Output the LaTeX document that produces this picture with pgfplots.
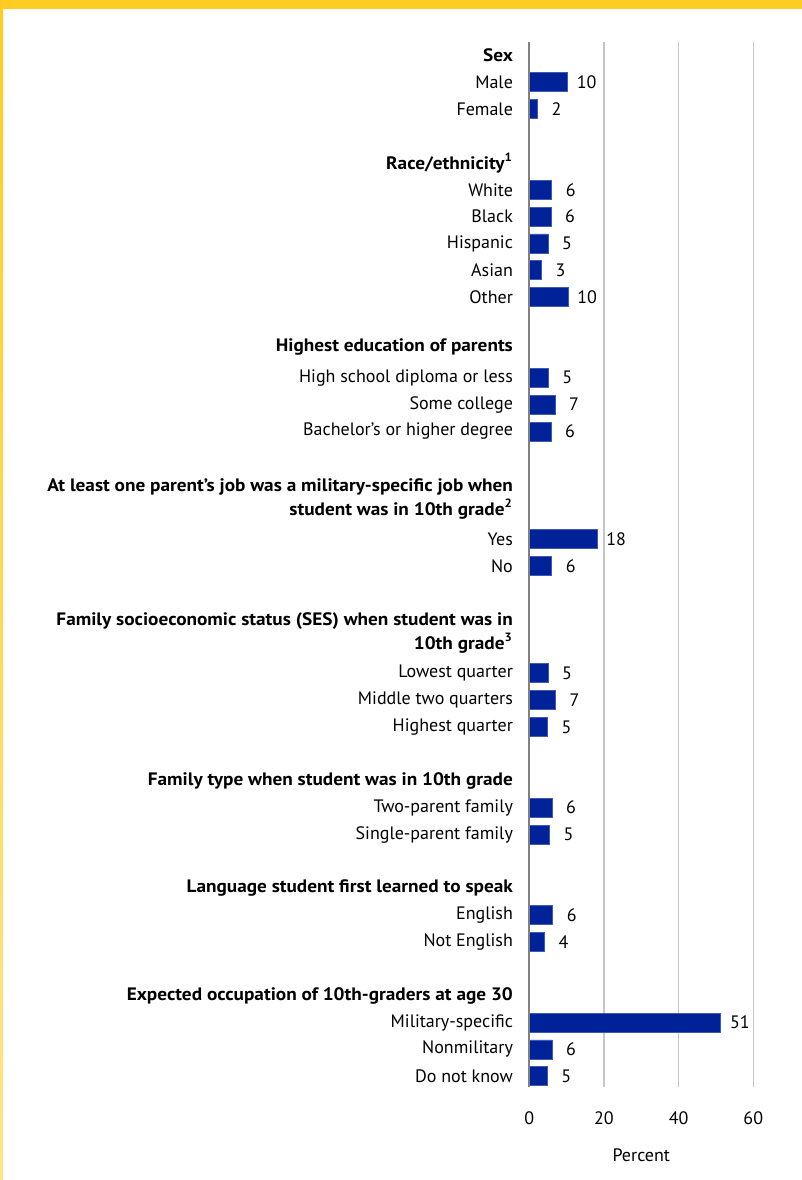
\documentclass[border=0pt]{standalone}
\usepackage{fontspec}
\setmainfont{PT Sans}[BoldFeatures={FakeStretch=1.07}]
\usepackage{pgfplots}
\usepackage{pgfplotstable}
\pgfplotsset{compat=1.18}

\definecolor{barblue}{RGB}{0,34,153}
\definecolor{bandyellow}{RGB}{255,204,34}
\definecolor{bandlight}{RGB}{255,228,140}

% rows run top to bottom; headings sit on the empty rows
\pgfplotstableread{
y  val  lab
1  10.3 10
2  2.2  2
5  6.0  6
6  5.8  6
7  5.0  5
8  3.3  3
9  10.4 10
12 5.1  5
13 6.9  7
14 5.8  6
18 18.2 18
19 6.0  6
23 5.0  5
24 7.0  7
25 4.9  5
28 6.1  6
29 5.4  5
32 6.3  6
33 4.1  4
36 51.3 51
37 6.1  6
38 4.8  5
}\data

\newcommand{\lbl}{\fontsize{9}{12}\selectfont}

\begin{document}
\begin{tikzpicture}
% page and yellow frame
\fill[white] (0,0) rectangle (401pt,-590pt);
\fill[bandyellow] (0,0) rectangle (401pt,-4.5pt);
\shade[top color=bandyellow, bottom color=bandlight] (0,-4.5pt) rectangle (1.5pt,-590pt);

\begin{axis}[
    at={(264.65pt,-543.5pt)},
    anchor=south west,
    scale only axis,
    width=112pt,
    height=522.5pt,
    xmin=0, xmax=60,
    ymin=-0.5, ymax=38.4,
    y dir=reverse,
    xtick={0,20,40,60},
    xmajorgrids=true,
    grid style={gray!45, line width=0.6pt},
    axis line style={draw=none},
    major tick length=0pt,
    ytick={0,1,2,4,5,6,7,8,9,10.85,12,13,14,16.5,18,19,21.5,23,24,25,27,28,29,31,32,33,35,36,37,38},
    yticklabels={
        \textbf{Sex}, Male, Female,
        \textbf{Race/ethnicity\textsuperscript{1}}, White, Black, Hispanic, Asian, Other,
        \textbf{Highest education of parents}, High school diploma or less, Some college, Bachelor’s or higher degree,
        {\textbf{At least one parent’s job was a military-specific job when}\\\textbf{student was in 10th grade\textsuperscript{2}}}, Yes, No,
        {\textbf{Family socioeconomic status (SES) when student was in}\\\textbf{10th grade\textsuperscript{3}}}, Lowest quarter, Middle two quarters, Highest quarter,
        \textbf{Family type when student was in 10th grade}, Two-parent family, Single-parent family,
        \textbf{Language student first learned to speak}, English, Not English,
        \textbf{Expected occupation of 10th-graders at age 30}, Military-specific, Nonmilitary, Do not know
    },
    yticklabel style={align=right, font=\lbl, inner sep=0pt, xshift=-8pt},
    xticklabel style={font=\lbl, yshift=-9pt},
    /pgf/number format/assume math mode=true,
    clip=false,
]
\addplot[
    xbar,
    bar width=9.5pt,
    fill=barblue,
    draw=barblue!75!white,
    line width=0.4pt,
    nodes near coords,
    point meta=explicit symbolic,
    every node near coord/.append style={font=\lbl, black, anchor=center, xshift=9.5pt},
] table[x=val, y=y, meta=lab] {\data};
% darker line at zero
\draw[gray, line width=0.8pt] (axis cs:0,-0.5) -- (axis cs:0,38.4);
\node[font=\lbl] at (axis description cs:0.5,0) [yshift=-34pt] {Percent};
\end{axis}
\end{tikzpicture}
\end{document}
